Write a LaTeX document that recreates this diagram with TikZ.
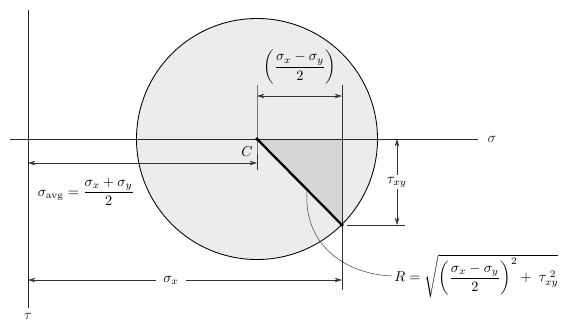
\documentclass[tikz,border=0pt]{standalone}
\usepackage{amsmath,amssymb}
\usepackage{tikz}
\usetikzlibrary{arrows.meta, positioning, calc}
\definecolor{discfill}{gray}{0.925}
\definecolor{trifill}{gray}{0.84}
\tikzset{
  axis/.style={line width=0.7pt, black!85},
  ext/.style={line width=0.4pt, black!80},
  dim/.style={{Stealth[length=1.8mm, width=1.1mm]}-{Stealth[length=1.8mm, width=1.1mm]}, line width=0.4pt, black!80},
  radius/.style={line width=1.6pt},
  leader/.style={line width=0.35pt, black!75},
  dot/.style={circle, fill=black, inner sep=0pt, minimum size=2.6pt},
  lbl/.style={inner sep=1.5pt},
  every node/.style={font=\normalsize}
}

\begin{document}
\begin{tikzpicture}[x=0.7pt, y=-0.7pt]
    \useasboundingbox (0,0) rectangle (561,322);
    \coordinate (C) at (257,139);
    \coordinate (P) at (342,225);
    \coordinate (Q) at (342,139);

    % circle and shaded triangle
    \draw[fill=discfill, line width=0.6pt] (C) circle (120.5);
    \fill[trifill] (C) -- (Q) -- (P) -- cycle;

    % axes
    \coordinate (sigL) at (10,139);
    \coordinate (sigR) at (478,139);
    \coordinate (tauT) at (28,10);
    \coordinate (tauB) at (28,308);
    \draw[axis] (sigL) -- (sigR) node[right=3pt] (sig) {$\sigma$};
    \draw[axis] (tauT) -- (tauB) node[below=0pt] (tau) {$\tau$};

    % extension lines
    \draw[ext] (257,85) -- (C) -- (257,170);
    \draw[ext] (342,85) -- (342,290);
    \draw[ext] (347,225) -- (405,225);

    % dimensions
    \draw[dim] (257,96) -- (342,96);
    \node[lbl] (half) at (300,67) {$\left(\dfrac{\sigma_x - \sigma_y}{2}\right)$};
    \draw[dim] (28,163) -- (257,163);
    \node[lbl] (avg) at (86,192) {$\sigma_{\mathrm{avg}} = \dfrac{\sigma_x + \sigma_y}{2}$};
    \draw[dim] (397,139) -- (397,225);
    \node[lbl, fill=white] (txy) at (397,182) {$\tau_{xy}$};
    \draw[dim] (28,280) -- (342,280);
    \node[lbl, fill=white, inner xsep=5pt] (sx) at (171,280) {$\sigma_x$};

    % radius
    \draw[radius] (C) -- (P);
    \node[dot] (cdot) at (C) {};
    \node[dot] (pdot) at (P) {};
    \node (clbl) at (247,152) {$C$};

    % R label with leader
    \node[lbl, anchor=west] (R) at (392,276) {$R = \sqrt{\left(\dfrac{\sigma_x - \sigma_y}{2}\right)^{2} + \;\tau_{xy}^{\;2}}$};
    \coordinate (lead) at (307,190);
    \draw[leader] (lead) .. controls (303,245) and (345,274) .. (R.west);
\end{tikzpicture}
\end{document}
